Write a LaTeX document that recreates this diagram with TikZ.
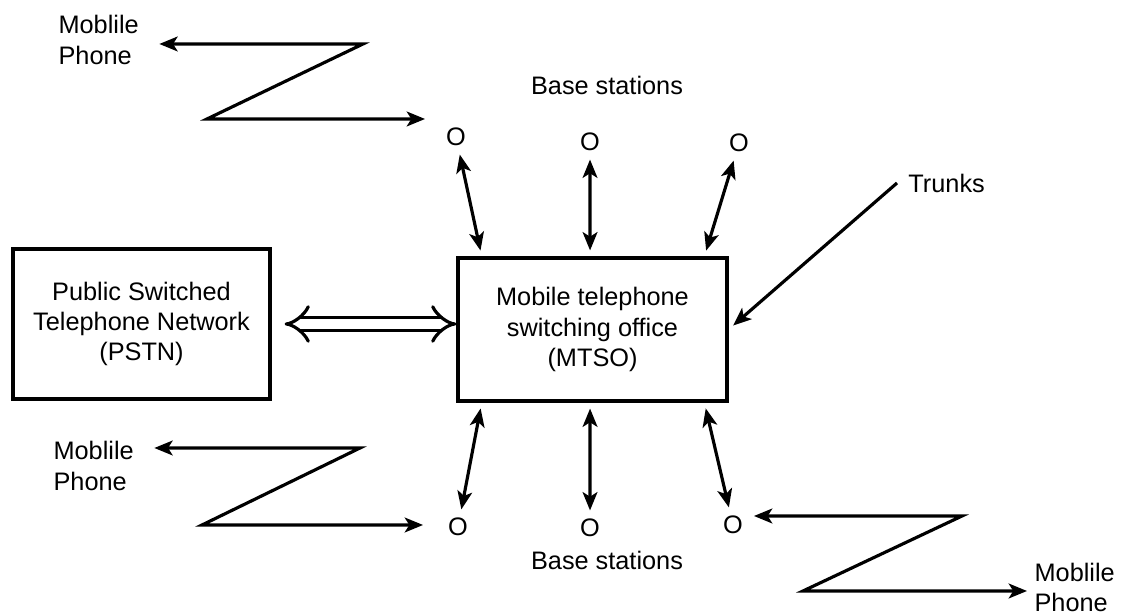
\documentclass[tikz,border=0pt]{standalone}
\usepackage{fontspec}
\setmainfont{Liberation Sans}
\usetikzlibrary{arrows.meta, calc}

\begin{document}
\begin{tikzpicture}[line width=0.9pt,
  font=\fontsize{7.2}{8.6}\selectfont,
  >={Stealth[length=5.2pt,width=4.2pt,inset=1.3pt]},
  box/.style={draw, align=center, inner sep=0pt},
  bs/.style={inner sep=2pt},
  phone/.style={align=left, inner sep=0pt, anchor=west},
  link/.style={<->, shorten >=1.7pt},
  radio/.style={<->}]
  \useasboundingbox (0,0) rectangle (11.21,6.16);

  \node[box, minimum width=2.69cm, minimum height=1.43cm] (mtso) at (5.925,2.865) {Mobile telephone\\switching office\\(MTSO)};
  \node[box, minimum width=2.57cm, minimum height=1.50cm] (pstn) at (1.415,2.92) {Public Switched\\Telephone Network\\(PSTN)};

  \node[bs] (bs1) at (4.56,4.79) {O};
  \node[bs] (bs2) at (5.90,4.74) {O};
  \node[bs] (bs3) at (7.39,4.73) {O};
  \node[bs] (bs4) at (4.58,0.89) {O};
  \node[bs] (bs5) at (5.90,0.88) {O};
  \node[bs] (bs6) at (7.33,0.91) {O};
  \node (bstop) at (6.07,5.31) {Base stations};
  \node (bsbot) at (6.07,0.56) {Base stations};

  \node[phone] (ph1) at (0.57,5.76) {Moblile\\Phone};
  \node[phone] (ph2) at (0.52,1.50) {Moblile\\Phone};
  \node[phone] (ph3) at (10.33,0.285) {Moblile\\Phone};
  \node[anchor=west, inner sep=2.8pt] (trunk) at (8.97,4.33) {Trunks};

  \foreach \s/\f in {1/0.093, 2/0.491, 3/0.911}
    \draw[link] (bs\s) -- ($(mtso.north west)!\f!(mtso.north east)$);
  \foreach \s/\f in {4/0.093, 5/0.491, 6/0.911}
    \draw[link] (bs\s) -- ($(mtso.south west)!\f!(mtso.south east)$);

  \draw[double, double distance=2.8pt, {Implies[scale=1.3]}-{Implies[scale=1.3]}, shorten <=0.13cm] (pstn.east) -- (pstn.east -| mtso.west);
  \draw[->, shorten >=0.06cm] (trunk.west) -- (mtso.east);

  \coordinate (z1a) at (3.63,5.72);
  \coordinate (z1b) at (2.07,4.97);
  \coordinate (z2a) at (3.60,1.68);
  \coordinate (z2b) at (2.02,0.91);
  \coordinate (z3a) at (9.62,1.00);
  \coordinate (z3b) at (8.03,0.25);
  \draw[radio, shorten <=0.19cm, shorten >=0.125cm] (ph1.east |- z1a) -- (z1a) -- (z1b) -- (z1b -| bs1.west);
  \draw[radio, shorten <=0.19cm, shorten >=0.165cm] (ph2.east |- z2a) -- (z2a) -- (z2b) -- (z2b -| bs4.west);
  \draw[radio, shorten <=0.025cm, shorten >=0.06cm] (bs6.east |- z3a) -- (z3a) -- (z3b) -- (z3b -| ph3.west);
\end{tikzpicture}
\end{document}
